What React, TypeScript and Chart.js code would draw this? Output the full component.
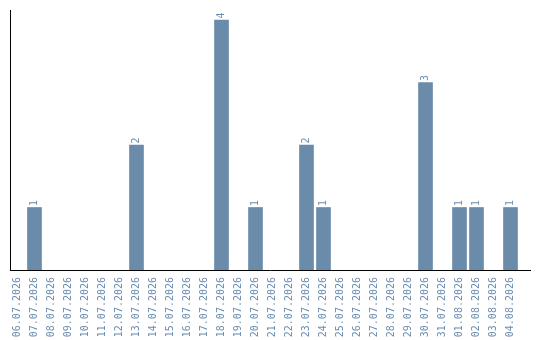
import React, { useEffect, useRef } from "react";
import { Chart, registerables } from "chart.js";

Chart.register(...registerables);

const dates: string[] = [
  "06.07.2026", "07.07.2026", "08.07.2026", "09.07.2026", "10.07.2026",
  "11.07.2026", "12.07.2026", "13.07.2026", "14.07.2026", "15.07.2026",
  "16.07.2026", "17.07.2026", "18.07.2026", "19.07.2026", "20.07.2026",
  "21.07.2026", "22.07.2026", "23.07.2026", "24.07.2026", "25.07.2026",
  "26.07.2026", "27.07.2026", "28.07.2026", "29.07.2026", "30.07.2026",
  "31.07.2026", "01.08.2026", "02.08.2026", "03.08.2026", "04.08.2026",
];

const counts: number[] = [
  0, 1, 0, 0, 0, 0, 0, 2, 0, 0,
  0, 0, 4, 0, 1, 0, 0, 2, 1, 0,
  0, 0, 0, 0, 3, 0, 1, 1, 0, 1,
];

const BAR_COLOR = "rgb(106,140,170)";
const TEXT_COLOR = "rgb(106,140,175)";
const FONT = "'DejaVu Sans Mono', monospace";

// Days with no entries get no bar at all.
const points = counts
  .map((y, x) => ({ x, y }))
  .filter((p) => p.y > 0);

// Writes each count above its bar, rotated to read upward.
const valueLabels = {
  id: "valueLabels",
  afterDatasetsDraw(chart: any) {
    const ctx = chart.ctx;
    const meta = chart.getDatasetMeta(0);
    ctx.save();
    ctx.fillStyle = TEXT_COLOR;
    ctx.font = `10px ${FONT}`;
    ctx.textAlign = "left";
    ctx.textBaseline = "middle";
    meta.data.forEach((bar: any, i: number) => {
      const v = points[i].y;
      ctx.save();
      ctx.translate(bar.x, bar.y - 1.5);
      ctx.rotate(-Math.PI / 2);
      ctx.fillText(String(v), 0, 0);
      ctx.restore();
    });
    ctx.restore();
  },
};

export default function App() {
  const canvasRef = useRef<HTMLCanvasElement | null>(null);

  useEffect(() => {
    document.body.style.margin = "0";
    const canvas = canvasRef.current;
    if (!canvas) return;
    const chart = new Chart(canvas, {
      type: "bar",
      data: {
        datasets: [
          {
            data: points,
            backgroundColor: BAR_COLOR,
            borderWidth: 0,
            barThickness: 14,
          },
        ],
      },
      options: {
        animation: false,
        responsive: false,
        maintainAspectRatio: false,
        layout: { padding: { top: 10, bottom: 0, left: 10, right: 10 } },
        plugins: {
          legend: { display: false },
          tooltip: { enabled: false },
        },
        scales: {
          x: {
            type: "linear",
            min: -0.441,
            max: 30.147,
            bounds: "data",
            offset: false,
            grid: { display: false, drawTicks: false, offset: false },
            border: { display: true, color: "#000", width: 1 },
            afterBuildTicks: (scale: any) => {
              scale.ticks = dates.map((_, i) => ({ value: i }));
            },
            afterFit: (scale: any) => {
              scale.height = 70;
              scale.paddingLeft = 0;
              scale.paddingRight = 0;
            },
            ticks: {
              autoSkip: false,
              minRotation: 90,
              maxRotation: 90,
              padding: 7,
              color: TEXT_COLOR,
              font: { family: FONT, size: 10 },
              callback: (v: any) => dates[Math.round(v as number)] ?? "",
            },
          },
          y: {
            min: 0,
            max: 4.16,
            grid: { display: false, drawTicks: false },
            border: { display: true, color: "#000", width: 1 },
            afterFit: (scale: any) => {
              scale.width = 0;
            },
            ticks: { display: false },
          },
        },
      },
      plugins: [valueLabels],
    });
    return () => chart.destroy();
  }, []);

  return (
    <div style={{ width: 540, height: 340 }}>
      <canvas ref={canvasRef} width={540} height={340} style={{ display: "block" }} />
    </div>
  );
}
